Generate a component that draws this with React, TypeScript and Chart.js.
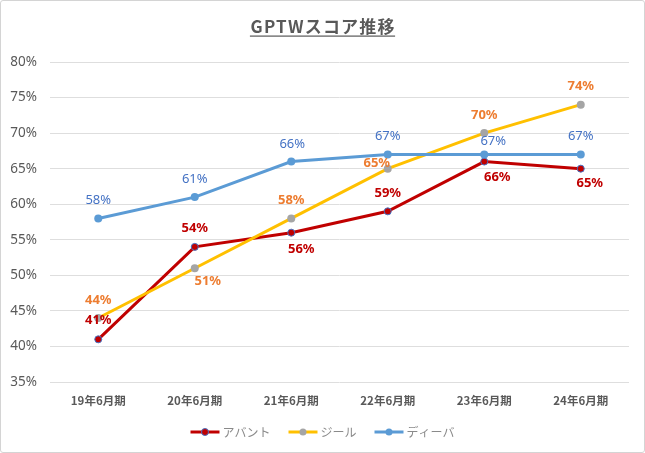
import React, { useEffect, useRef } from "react";
import { Chart, registerables } from "chart.js";

Chart.register(...registerables);

const categories = ["19年6月期", "20年6月期", "21年6月期", "22年6月期", "23年6月期", "24年6月期"];
const seriesNames = ["アバント", "ジール", "ディーバ"];
const avant = [41, 54, 56, 59, 66, 65];
const zeal = [44, 51, 58, 65, 70, 74];
const diva = [58, 61, 66, 67, 67, 67];
const yTicks = [35, 40, 45, 50, 55, 60, 65, 70, 75, 80];
const titleText = "GPTWスコア推移";

const FONT = "'Noto Sans', 'Noto Sans CJK JP', sans-serif";
const CJK = "'Noto Sans CJK JP', 'Noto Sans', sans-serif";

// label placement per point (dx, dy from the marker), like the Excel labels
const labelStyles = [
  {
    color: "#C00000",
    weight: "bold",
    offsets: [[0, -19], [0, -19], [10, 17], [0, -18], [13, 16], [9, 15]],
  },
  {
    color: "#ED7D31",
    weight: "bold",
    offsets: [[0, -18], [13, 13], [0, -18], [-11, -5], [0, -18], [0, -18]],
  },
  {
    color: "#4472C4",
    weight: "normal",
    offsets: [[0, -18], [0, -18], [1, -17], [0, -18], [9, -13], [0, -18]],
  },
];

const pointLabels = {
  id: "pointLabels",
  afterDatasetsDraw(chart: any) {
    const ctx = chart.ctx;
    chart.data.datasets.forEach((ds: any, i: number) => {
      const meta = chart.getDatasetMeta(i);
      const st = labelStyles[i];
      ctx.save();
      ctx.font = `${st.weight} 13px ${FONT}`;
      ctx.fillStyle = st.color;
      ctx.textAlign = "center";
      ctx.textBaseline = "middle";
      meta.data.forEach((pt: any, j: number) => {
        const [dx, dy] = st.offsets[j];
        ctx.fillText(`${ds.data[j]}%`, pt.x + dx, pt.y + dy);
      });
      ctx.restore();
    });
  },
};

const titleAndLegend = {
  id: "titleAndLegend",
  afterDraw(chart: any) {
    const ctx = chart.ctx;
    const cx = chart.width / 2;
    ctx.save();
    // title, underlined
    ctx.font = `bold 17px ${CJK}`;
    (ctx as any).letterSpacing = "1.2px";
    ctx.fillStyle = "#595959";
    ctx.textAlign = "center";
    ctx.textBaseline = "middle";
    const tw = ctx.measureText(titleText).width;
    ctx.fillText(titleText, cx + 0.6, 27);
    ctx.fillRect(cx - tw / 2, 35.5, tw, 1.2);
    (ctx as any).letterSpacing = "0px";

    // legend: line + marker + name
    ctx.font = `12px ${CJK}`;
    const lineLen = 29;
    const gap = 3;
    const itemGap = 18;
    const widths = seriesNames.map((n) => ctx.measureText(n).width);
    const total = widths.reduce((a, w) => a + lineLen + gap + w, 0) + itemGap * (seriesNames.length - 1);
    let x = cx - total / 2;
    const y = 432;
    chart.data.datasets.forEach((ds: any, i: number) => {
      ctx.strokeStyle = ds.borderColor;
      ctx.lineWidth = 3;
      ctx.beginPath();
      ctx.moveTo(x, y);
      ctx.lineTo(x + lineLen, y);
      ctx.stroke();
      ctx.beginPath();
      ctx.arc(x + lineLen / 2, y, 3.5, 0, Math.PI * 2);
      ctx.fillStyle = ds.pointBackgroundColor;
      ctx.fill();
      if (ds.pointBorderWidth) {
        ctx.lineWidth = ds.pointBorderWidth;
        ctx.strokeStyle = ds.pointBorderColor;
        ctx.stroke();
      }
      ctx.fillStyle = "#8a8a8a";
      ctx.textAlign = "left";
      ctx.fillText(seriesNames[i], x + lineLen + gap, y);
      x += lineLen + gap + widths[i] + itemGap;
    });
    ctx.restore();
  },
};

const GptwChart: React.FC = () => {
  const chartRef = useRef<HTMLCanvasElement>(null);

  useEffect(() => {
    document.body.style.margin = "0";
    if (!chartRef.current) return;
    const chart = new Chart(chartRef.current, {
      type: "line",
      data: {
        labels: categories,
        datasets: [
          {
            label: seriesNames[0],
            data: avant,
            borderColor: "#C00000",
            borderWidth: 3,
            pointBackgroundColor: "#C00000",
            pointBorderColor: "#4472C4",
            pointBorderWidth: 1,
            pointRadius: 3.5,
            order: 2,
          },
          {
            label: seriesNames[1],
            data: zeal,
            borderColor: "#FFC000",
            borderWidth: 3,
            pointBackgroundColor: "#A5A5A5",
            pointBorderColor: "#A5A5A5",
            pointBorderWidth: 0,
            pointRadius: 4,
            order: 1,
          },
          {
            label: seriesNames[2],
            data: diva,
            borderColor: "#5B9BD5",
            borderWidth: 3,
            pointBackgroundColor: "#5B9BD5",
            pointBorderColor: "#5B9BD5",
            pointBorderWidth: 0,
            pointRadius: 4,
            order: 0,
          },
        ],
      },
      options: {
        responsive: false,
        animation: false,
        layout: { padding: { top: 62, left: 0, right: 16, bottom: 0 } },
        scales: {
          x: {
            offset: true,
            grid: { display: false, drawTicks: false },
            border: { display: false },
            ticks: {
              color: "#595959",
              padding: 12,
              font: { family: CJK, size: 11.5, weight: "bold" },
            },
            afterFit: (s: any) => {
              s.height = 71;
            },
          },
          y: {
            min: 35,
            max: 80,
            grid: { color: "#dedede", lineWidth: 1, drawTicks: false },
            border: { display: false },
            afterBuildTicks: (s: any) => {
              s.ticks = yTicks.map((v) => ({ value: v }));
            },
            ticks: {
              color: "#595959",
              padding: 13,
              font: { family: FONT, size: 13.5 },
              callback: (v: any) => `${v}%`,
            },
            afterFit: (s: any) => {
              s.width = 50;
            },
          },
        },
        plugins: {
          legend: { display: false },
          tooltip: { enabled: false },
        },
      },
      plugins: [pointLabels, titleAndLegend],
    });

    return () => {
      chart.destroy();
    };
  }, []);

  return (
    <div style={{ position: "relative", width: 645, height: 453, background: "#ffffff" }}>
      <canvas ref={chartRef} width={645} height={453} style={{ position: "absolute", left: 0, top: 0 }}></canvas>
      <div
        style={{
          position: "absolute",
          left: 0,
          top: 0,
          width: 643,
          height: 451,
          border: "1px solid #d4d4d4",
          borderRadius: 3,
          pointerEvents: "none",
        }}
      ></div>
    </div>
  );
};

export default function App() {
  return <GptwChart />;
}
